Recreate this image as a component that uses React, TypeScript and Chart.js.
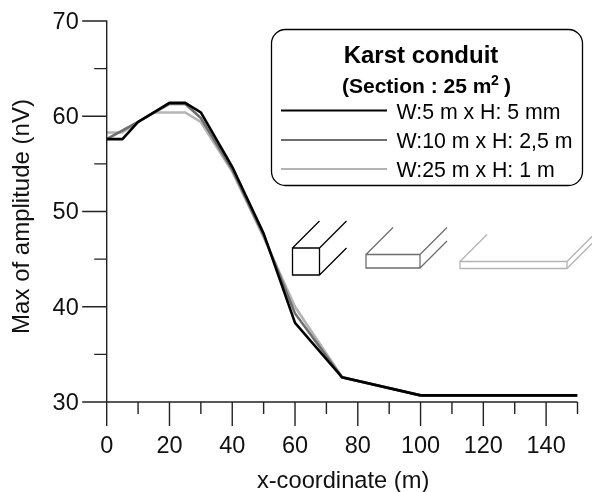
import React, { useEffect, useRef } from "react";
import { Chart, registerables } from "chart.js";

Chart.register(...registerables);

const blackX = [0, 5, 10, 20, 25, 30, 40, 50, 60, 75, 100, 150];
const blackY = [57.6, 57.6, 59.4, 61.4, 61.4, 60.4, 54.7, 47.7, 38.3, 32.6, 30.7, 30.7];
const grayX = [0, 10, 20, 25, 30, 40, 50, 60, 75, 100, 150];
const grayY = [57.6, 59.4, 61.3, 61.3, 59.8, 54.4, 47.5, 39.3, 32.6, 30.7, 30.7];
const lightX = [0, 5, 10, 15, 25, 30, 40, 50, 60, 75, 100, 150];
const lightY = [58.3, 58.3, 59.4, 60.4, 60.4, 59.4, 54.2, 47.3, 40.0, 32.6, 30.7, 30.7];
const legendLabels = ["W:5 m x H: 5 mm", "W:10 m x H: 2,5 m", "W:25 m x H: 1 m"];
const BLACK = "#000000";
const GRAY = "#6e6e6e";
const LIGHT = "#b4b4b4";
const FONT = '"Liberation Sans", Arial, sans-serif';
const AXIS_FONT = 23.5;

function pts(xs: number[], ys: number[]) {
  return xs.map((x, i) => ({ x, y: ys[i] }));
}

const overlay = {
  id: "overlay",
  afterDraw(chart: any) {
    const c = chart.ctx;
    const xs = chart.scales.x;
    const ys = chart.scales.y;
    c.save();
    c.strokeStyle = "#222";
    c.lineWidth = 1.4;
    c.lineCap = "butt";
    const y0 = ys.getPixelForValue(30);
    const x0 = xs.getPixelForValue(0);
    c.beginPath();
    c.moveTo(x0, ys.getPixelForValue(70) - 0.7);
    c.lineTo(x0, y0);
    c.moveTo(x0, y0);
    c.lineTo(xs.getPixelForValue(150), y0);
    for (let v = 0; v <= 150; v += 10) {
      const p = xs.getPixelForValue(v);
      c.moveTo(p, y0);
      c.lineTo(p, y0 + (v % 20 === 0 ? 24 : 12));
    }
    for (let v = 30; v <= 70; v += 5) {
      const p = ys.getPixelForValue(v);
      c.moveTo(x0, p);
      c.lineTo(x0 - (v % 10 === 0 ? 24.5 : 12.5), p);
    }
    c.stroke();

    // legend box
    c.strokeStyle = "#000";
    c.lineWidth = 1.3;
    c.beginPath();
    c.roundRect(271.5, 29.5, 311, 156, 14);
    c.fillStyle = "#fff";
    c.fill();
    c.stroke();
    c.fillStyle = "#000";
    c.textBaseline = "alphabetic";
    c.textAlign = "center";
    c.font = `bold 24px ${FONT}`;
    c.fillText("Karst conduit", 421, 63);
    c.textAlign = "left";
    c.font = `bold 21px ${FONT}`;
    c.fillText("(Section : 25 m", 342, 93);
    c.font = `bold 14px ${FONT}`;
    c.fillText("2", 491, 85);
    c.font = `bold 21px ${FONT}`;
    c.fillText(")", 504, 93);
    const colors = [BLACK, GRAY, LIGHT];
    const rows = [110.5, 140, 169];
    c.font = `21.3px ${FONT}`;
    legendLabels.forEach((t, i) => {
      c.strokeStyle = colors[i];
      c.lineWidth = 2.2;
      c.beginPath();
      c.moveTo(281, rows[i]);
      c.lineTo(387, rows[i]);
      c.stroke();
      c.fillStyle = "#000";
      c.fillText(t, 396.5, rows[i] + 8.3);
    });

    // cross-section sketches
    const box = (color: string, l: number, r: number, t: number, b: number, dx: number, dy: number, lw: number) => {
      c.strokeStyle = color;
      c.lineWidth = lw;
      c.beginPath();
      c.rect(l, t, r - l, b - t);
      c.moveTo(l, t); c.lineTo(l + dx, t - dy);
      c.moveTo(r, t); c.lineTo(r + dx, t - dy);
      c.moveTo(r, b); c.lineTo(r + dx, b - dy);
      c.stroke();
    };
    box(BLACK, 292.5, 319.5, 248, 275, 27, 27, 1.3);
    box(GRAY, 366, 420, 254.5, 268, 27, 27, 1.3);
    box(LIGHT, 460, 567, 261.5, 268.5, 27, 27, 1.3);
    c.restore();
  },
};

// Removes Chart.js's automatic inset and nudges the title and tick labels of a scale.
const adjust = (s: any, title: [number, number], labels: [number, number]) => {
  s.paddingTop = 0;
  s.paddingBottom = 0;
  s.paddingLeft = 0;
  s.paddingRight = 0;
  if (s.__adjusted) return;
  s.__adjusted = true;
  const wrap = (name: string, d: [number, number]) => {
    const orig = s[name].bind(s);
    s[name] = (...args: any[]) => {
      s.ctx.save();
      s.ctx.translate(d[0], d[1]);
      orig(...args);
      s.ctx.restore();
    };
  };
  wrap("drawTitle", title);
  wrap("drawLabels", labels);
};

export default function App() {
  const ref = useRef<HTMLCanvasElement>(null);
  useEffect(() => {
    const chart = new Chart(ref.current!, {
      type: "line",
      data: {
        datasets: [
          { label: legendLabels[0], data: pts(blackX, blackY), borderColor: BLACK, borderWidth: 2.6, pointRadius: 0, tension: 0 },
          { label: legendLabels[1], data: pts(grayX, grayY), borderColor: GRAY, borderWidth: 2.6, pointRadius: 0, tension: 0 },
          { label: legendLabels[2], data: pts(lightX, lightY), borderColor: LIGHT, borderWidth: 2.6, pointRadius: 0, tension: 0 },
        ],
      },
      options: {
        animation: false,
        responsive: false,
        layout: { autoPadding: false, padding: { top: 21, right: 14.5, left: 0, bottom: 0 } },
        plugins: { legend: { display: false }, tooltip: { enabled: false } },
        scales: {
          x: {
            type: "linear",
            min: 0,
            max: 150,
            border: { display: false },
            grid: { display: false, drawTicks: false },
            ticks: {
              stepSize: 10,
              autoSkip: false,
              maxRotation: 0,
              padding: 30,
              color: "#111",
              font: { family: FONT, size: AXIS_FONT },
              callback: (v: any) => (Number(v) % 20 === 0 ? String(v) : ""),
            },
            title: { display: true, text: "x-coordinate (m)", color: "#111", font: { family: FONT, size: 23.7 }, padding: { top: 10, bottom: 0 } },
            afterFit: (s: any) => { s.height = 90; adjust(s, [1, 4], [0, 0]); },
          },
          y: {
            type: "linear",
            min: 30,
            max: 70,
            border: { display: false },
            grid: { display: false, drawTicks: false },
            ticks: {
              stepSize: 5,
              autoSkip: false,
              padding: 28,
              color: "#111",
              font: { family: FONT, size: AXIS_FONT },
              callback: (v: any) => (Number(v) % 10 === 0 ? String(v) : ""),
            },
            title: { display: true, text: "Max of amplitude (nV)", color: "#111", font: { family: FONT, size: 24 }, padding: { top: 5, bottom: 0 } },
            afterFit: (s: any) => { s.width = 106.7; adjust(s, [3, 5], [0, 1.5]); },
          },
        },
      },
      plugins: [overlay],
    } as any);
    return () => chart.destroy();
  }, []);
  return (
    <canvas
      ref={ref}
      width={592}
      height={492}
      style={{ position: "absolute", left: 0, top: 0, width: 592, height: 492, display: "block" }}
    />
  );
}
